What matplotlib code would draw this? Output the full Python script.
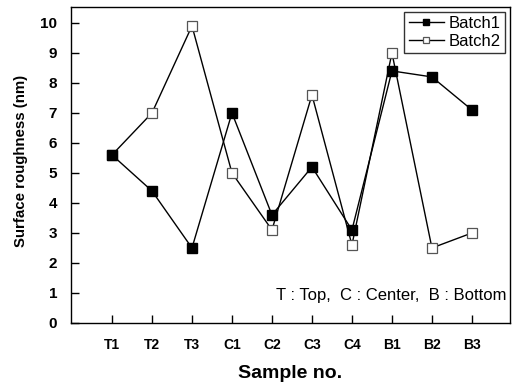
import matplotlib
matplotlib.use("Agg")
import matplotlib.pyplot as plt

categories = ["T1", "T2", "T3", "C1", "C2", "C3", "C4", "B1", "B2", "B3"]
batch1 = [5.6, 4.4, 2.5, 7.0, 3.6, 5.2, 3.1, 8.4, 8.2, 7.1]
batch2 = [5.6, 7.0, 9.9, 5.0, 3.1, 7.6, 2.6, 9.0, 2.5, 3.0]
yticks = [0, 1, 2, 3, 4, 5, 6, 7, 8, 9, 10]

plt.rcParams['font.family'] = ['Liberation Sans', 'DejaVu Sans']

fig = plt.figure(figsize=(5.13, 3.83), dpi=100)
ax = fig.add_axes([0.1384, 0.1567, 0.994 - 0.1384, 0.9817 - 0.1567])

x = list(range(len(categories)))
ax.plot(x, batch2, color='black', lw=1.0, marker='s', ms=6.5, mfc='white', mec='#555555', mew=0.9, label='Batch2', zorder=2)
ax.plot(x, batch1, color='black', lw=1.0, marker='s', ms=6.5, mfc='black', mec='black', label='Batch1', zorder=3)

ax.set_xlim(-1.025, 9.95)
ax.set_ylim(0, 10.53)
ax.set_xticks(x)
ax.set_xticklabels(categories, fontsize=10, fontweight='bold')
ax.set_yticks(yticks)
ax.set_yticklabels([str(v) for v in yticks], fontsize=11, fontweight='bold')
ax.tick_params(axis='both', direction='in', length=6, width=1.0)
ax.tick_params(axis='x', pad=11)
ax.tick_params(axis='y', pad=10)
for s in ax.spines.values():
    s.set_linewidth(1.0)

ax.set_xlabel('Sample no.', fontsize=14, fontweight='bold', labelpad=9)
ax.set_ylabel('Surface roughness (nm)', fontsize=10.8, fontweight='bold')
ax.yaxis.set_label_coords(-0.097, 0.513)

handles, labels = ax.get_legend_handles_labels()
leg = ax.legend(handles[::-1], labels[::-1], loc='upper right', fontsize=12, frameon=True,
                fancybox=False, edgecolor='black', handlelength=2.1, handletextpad=0.3,
                borderpad=0.25, labelspacing=0.15, borderaxespad=0.3, markerscale=0.7)
leg.get_frame().set_linewidth(1.0)

ax.text(0.993, 0.0854, 'T : Top,  C : Center,  B : Bottom', transform=ax.transAxes,
        ha='right', va='center', fontsize=12)

fig.savefig('out.png', dpi=100)
